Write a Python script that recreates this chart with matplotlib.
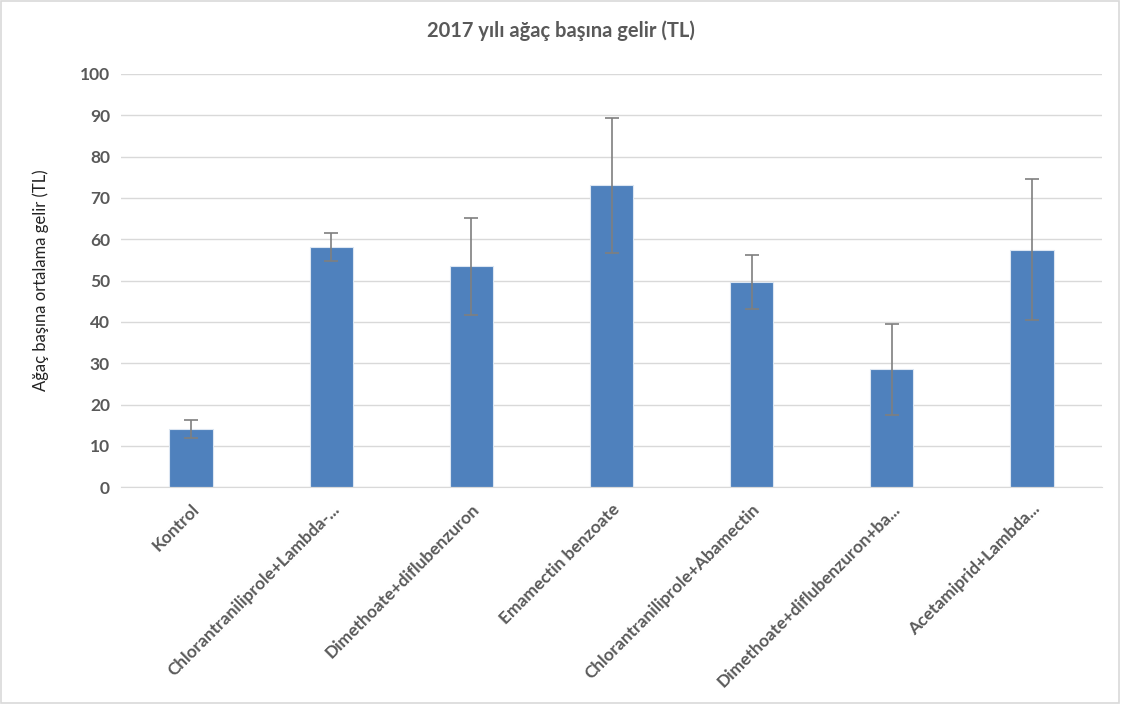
import matplotlib.pyplot as plt
from matplotlib.patches import Rectangle

categories = ['Kontrol', 'Chlorantraniliprole+Lambda-...', 'Dimethoate+diflubenzuron',
              'Emamectin benzoate', 'Chlorantraniliprole+Abamectin',
              'Dimethoate+diflubenzuron+ba...', 'Acetamiprid+Lambda...']
values = [14.1, 58.1, 53.4, 73.0, 49.6, 28.5, 57.5]
errors = [2.1, 3.3, 11.7, 16.3, 6.5, 11.1, 17.0]

plt.rcParams['font.family'] = ['Lato', 'DejaVu Sans']

fig = plt.figure(figsize=(11.21, 7.04), dpi=100)
ax = fig.add_axes([0.108, 0.308, 0.875, 0.587])

x = range(len(categories))
ax.bar(x, values, width=0.31, color='#4f81bd', edgecolor='#dce6f2', linewidth=0.8, zorder=2)
ax.errorbar(x, values, yerr=errors, fmt='none', ecolor='#7f7f7f', elinewidth=1.2,
            capsize=5, capthick=1.2, zorder=3)

ax.set_xlim(-0.5, len(categories) - 0.5)
ax.set_ylim(0, 100)
ax.set_yticks(range(0, 101, 10))
ax.yaxis.grid(True, color='#d9d9d9', linewidth=1)
ax.set_axisbelow(True)
for s in ['top', 'right', 'left']:
    ax.spines[s].set_visible(False)
ax.spines['bottom'].set_color('#d9d9d9')
ax.tick_params(length=0, colors='#595959', labelsize=12.5)
ax.tick_params(axis='y', pad=8)
for lbl in ax.get_yticklabels():
    lbl.set_fontweight('bold')

ax.set_xticks(list(x))
ax.set_xticklabels(categories, rotation=45, ha='right', rotation_mode='anchor',
                   fontweight='bold', color='#595959', fontsize=12.5)
ax.tick_params(axis='x', pad=10)

ax.set_ylabel('Ağaç başına ortalama gelir (TL)', fontsize=12, color='#222222', labelpad=22)
fig.text(0.5, 0.957, '2017 yılı ağaç başına gelir (TL)', ha='center', va='center',
         fontsize=14.5, fontweight='bold', color='#595959')

fig.patches.append(Rectangle((0.001, 0.001), 0.997, 0.997, transform=fig.transFigure,
                             fill=False, edgecolor='#d9d9d9', linewidth=1.2))

fig.savefig('out.png', dpi=100, facecolor='white')
